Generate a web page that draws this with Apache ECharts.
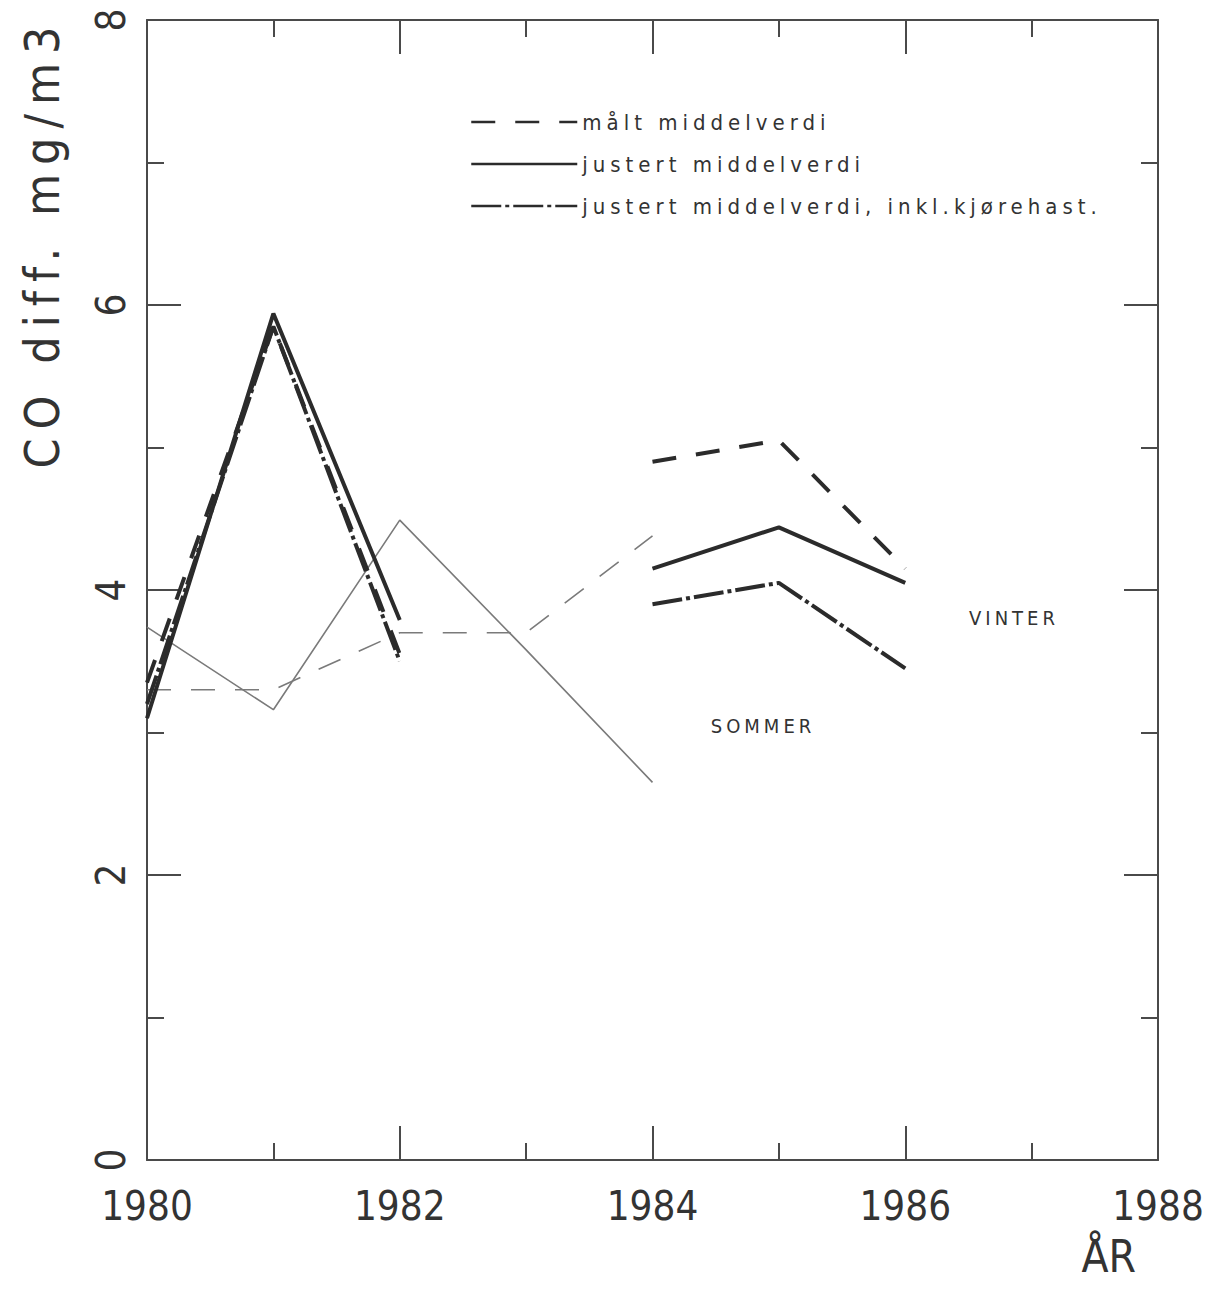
<!DOCTYPE html>
<html>
<head>
<meta charset="utf-8">
<script src="https://cdn.jsdelivr.net/npm/echarts@6/dist/echarts.min.js"></script>
<style>
html,body{margin:0;padding:0;background:#fff;}
#c{width:1210px;height:1295px;}
text[style*="lsLeg"]{letter-spacing:5px;}
text[style*="lsAnn"]{letter-spacing:4px;}
text[style*="lsName"]{letter-spacing:9px;}
</style>
</head>
<body>
<div id="c"></div>
<script>
// ---- data ----
const years = [1980, 1981, 1982, 1983, 1984, 1985, 1986];
// VINTER (thick lines)
const winterMeasured = [3.35, 5.85, 3.55, null, 4.90, 5.05, 4.15];
const winterAdjusted = [3.10, 5.94, 3.79, null, 4.15, 4.44, 4.05];
const winterAdjSpeed = [3.20, 5.85, 3.50, null, 3.90, 4.05, 3.45];
// SOMMER (thin lines)
const summerMeasured = [3.30, 3.30, 3.70, 3.70, 4.38, null, null];
const summerAdjusted = [3.74, 3.16, 4.49, 3.58, 2.65, null, null];

const seriesNames = ['målt middelverdi', 'justert middelverdi', 'justert middelverdi, inkl.kjørehast.'];
const summerNames = ['målt middelverdi (sommer)', 'justert middelverdi (sommer)'];
const xTickLabels = [1980, 1982, 1984, 1986, 1988];
const yTickLabels = [0, 2, 4, 6, 8];
const xAxisName = 'ÅR';
const yAxisName = 'CO diff. mg/m3';
const annotations = ['VINTER', 'SOMMER'];

// ---- chart ----
const F = "'Liberation Sans Narrow','DejaVu Sans Condensed','Liberation Sans',sans-serif";
const AX = '#4a4a4a';
const TXT = '#333';
const pairs = vals => years.map((y, i) => [y, vals[i]]);

const xMin = xTickLabels[0], xMax = xTickLabels[xTickLabels.length - 1];
const xInt = xTickLabels[1] - xTickLabels[0];
const yMin = yTickLabels[0], yMax = yTickLabels[yTickLabels.length - 1];
const yInt = yTickLabels[1] - yTickLabels[0];

function axisCommon() {
  return {
    type: 'value',
    axisLine: { show: true, onZero: false, lineStyle: { color: AX, width: 2 } },
    axisTick: { show: true, inside: true, length: 34, lineStyle: { color: AX, width: 2 } },
    minorTick: { show: true, splitNumber: 2, length: 17, lineStyle: { color: AX, width: 2 } },
    splitLine: { show: false },
    minorSplitLine: { show: false }
  };
}

const chart = echarts.init(document.getElementById('c'), null, { renderer: 'svg' });

const option = {
  animation: false,
  backgroundColor: '#fff',
  grid: { left: 147, right: 52, top: 20, bottom: 135, containLabel: false, outerBoundsMode: 'none' },
  xAxis: [
    Object.assign(axisCommon(), {
      position: 'bottom', min: xMin, max: xMax, interval: xInt,
      axisLabel: { show: true, margin: 26, fontSize: 40, lineHeight: 40, fontFamily: F, color: TXT,
                   formatter: v => String(v) },
      name: xAxisName, nameLocation: 'end', nameGap: 0,
      nameTextStyle: { fontSize: 44, fontFamily: F, color: TXT, align: 'right', verticalAlign: 'top', padding: [74, 22, 0, 0] }
    }),
    Object.assign(axisCommon(), {
      position: 'top', min: xMin, max: xMax, interval: xInt,
      axisLabel: { show: false }
    })
  ],
  yAxis: [
    Object.assign(axisCommon(), {
      position: 'left', min: yMin, max: yMax, interval: yInt,
      axisLabel: { show: true, rotate: 90, margin: 16, fontSize: 40, lineHeight: 40, fontFamily: F, color: TXT,
                   formatter: v => String(v) }
    }),
    Object.assign(axisCommon(), {
      position: 'right', min: yMin, max: yMax, interval: yInt,
      axisLabel: { show: false }
    })
  ],
  legend: {
    data: seriesNames,
    orient: 'vertical',
    left: 465, top: 106,
    itemWidth: 106, itemHeight: 14, itemGap: 20,
    textStyle: { fontSize: 22, lineHeight: 22, fontFamily: 'lsLeg,' + F, color: TXT },
    lineStyle: { width: 2.5 },
    itemStyle: { opacity: 0 },
    selectedMode: false
  },
  graphic: [
    { type: 'text', x: 42, y: 243, rotation: Math.PI / 2,
      style: { text: yAxisName, fontSize: 48, fontFamily: 'lsName,' + F, fill: TXT, align: 'center', verticalAlign: 'middle' } },
    { type: 'text', x: 1014, y: 618, style: { text: annotations[0], fontSize: 20, fontFamily: 'lsAnn,' + F, fill: TXT, align: 'center', verticalAlign: 'middle' } },
    { type: 'text', x: 763, y: 726, style: { text: annotations[1], fontSize: 20, fontFamily: 'lsAnn,' + F, fill: TXT, align: 'center', verticalAlign: 'middle' } }
  ],
  series: [
    { name: summerNames[0], type: 'line', data: pairs(summerMeasured), symbol: 'none', z: 1,
      lineStyle: { color: '#7a7a7a', width: 1.6, type: [24, 20] }, itemStyle: { color: '#7a7a7a' } },
    { name: summerNames[1], type: 'line', data: pairs(summerAdjusted), symbol: 'none', z: 1,
      lineStyle: { color: '#7a7a7a', width: 1.6 }, itemStyle: { color: '#7a7a7a' } },
    { name: seriesNames[0], type: 'line', data: pairs(winterMeasured), symbol: 'none', z: 3,
      lineStyle: { color: '#2b2b2b', width: 4, type: [24, 20] }, itemStyle: { color: '#2b2b2b' } },
    { name: seriesNames[1], type: 'line', data: pairs(winterAdjusted), symbol: 'none', z: 3,
      lineStyle: { color: '#2b2b2b', width: 4 }, itemStyle: { color: '#2b2b2b' } },
    { name: seriesNames[2], type: 'line', data: pairs(winterAdjSpeed), symbol: 'none', z: 3,
      lineStyle: { color: '#2b2b2b', width: 4, type: [30, 4, 4, 4] }, itemStyle: { color: '#2b2b2b' } }
  ]
};
chart.setOption(option);
</script>
</body>
</html>
